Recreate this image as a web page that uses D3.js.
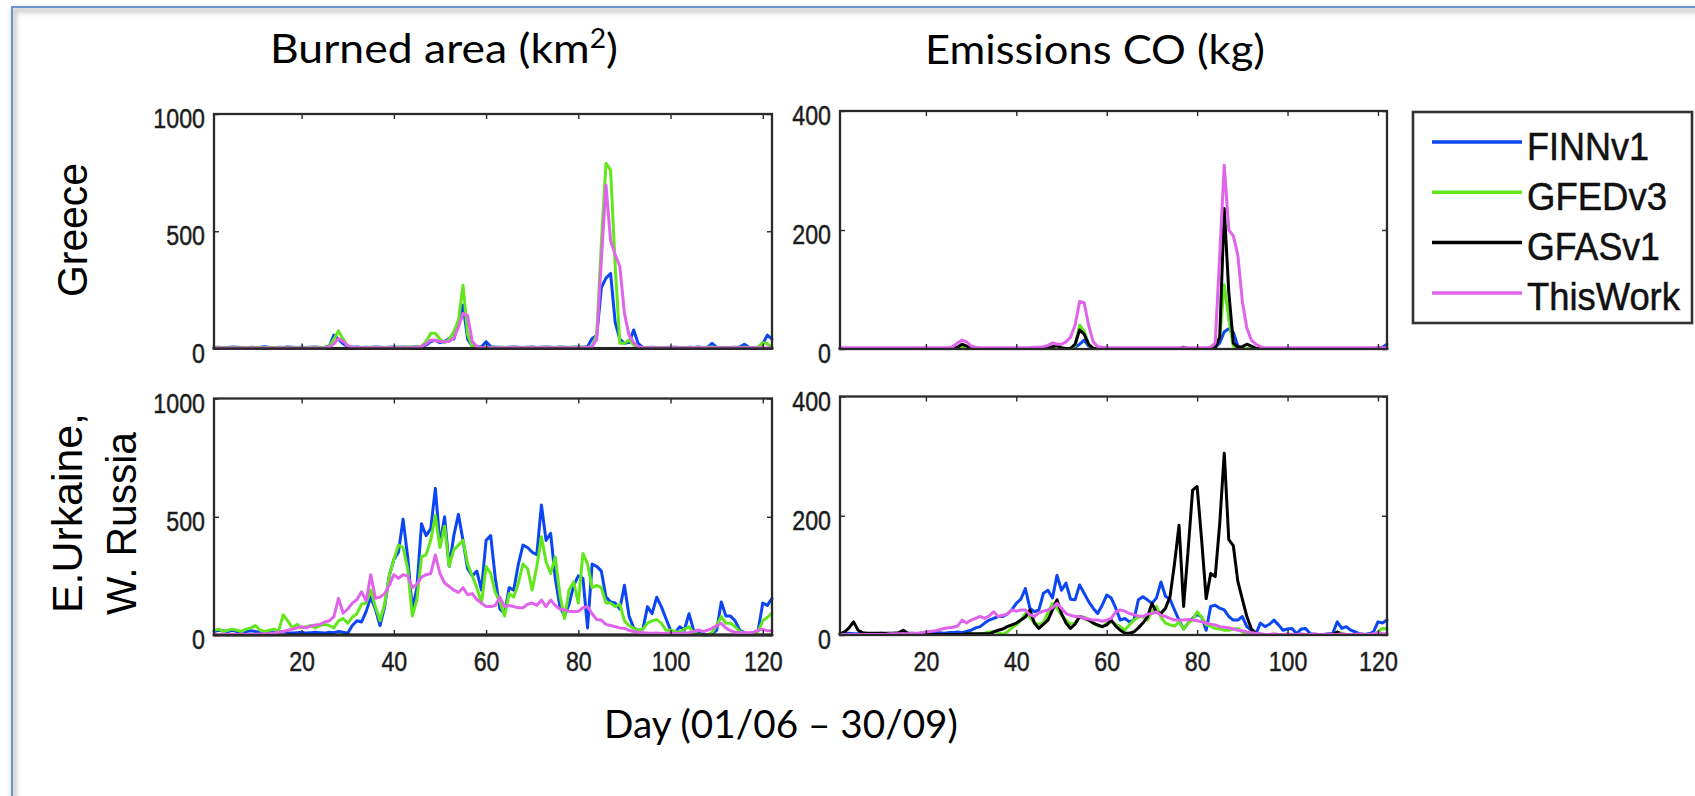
<!DOCTYPE html>
<html>
<head>
<meta charset="utf-8">
<title>Burned area and CO emissions, summer fires</title>
<script src="https://cdn.jsdelivr.net/npm/d3@7/dist/d3.min.js"></script>
<style>
  html, body { margin: 0; padding: 0; background: #ffffff; }
  svg { display: block; }
</style>
</head>
<body>
<svg id="figure" width="1695" height="796"></svg>
<script>
// ---------------- data (daily values, day 1 = 01/06 ... day 122 = 30/09) ----------------
const seriesNames = ["FINNv1", "GFEDv3", "GFASv1", "ThisWork"];
const dayTicks = [20, 40, 60, 80, 100, 120];
const areaTicks = [0, 500, 1000];
const coTicks = [0, 200, 400];
const columnTitles = ["Burned area (km", "Emissions CO (kg)"];
const rowLabels = [["Greece"], ["E.Urkaine,", "W. Russia"]];
const xAxisTitle = "Day (01/06 \u2013 30/09)";

// Greece, burned area (km2)
const greeceAreaFINN = [
  4,5,3,4,6,5,4,3,5,4,
  5,8,4,3,5,4,6,5,4,5,
  4,5,6,4,5,10,57,40,20,8,
  5,6,4,5,4,6,5,4,5,6,
  5,6,5,6,8,6,15,30,35,25,
  30,43,40,110,185,40,10,8,6,29,
  8,6,5,4,5,6,5,4,5,6,
  4,5,6,5,4,6,5,4,5,6,
  5,8,43,55,260,300,320,110,40,22,
  25,79,20,5,4,5,4,3,4,5,
  5,4,3,5,4,6,4,5,22,5,
  4,3,4,5,6,18,5,4,5,20,
  57,40];
const greeceAreaGFED = [
  3,4,3,2,4,3,3,4,3,3,
  4,3,5,3,4,3,2,3,4,3,
  3,4,3,5,4,10,40,75,40,10,
  4,3,4,3,5,4,3,4,3,4,
  5,4,6,5,8,10,30,65,65,40,
  25,40,72,120,270,60,8,4,3,5,
  4,3,5,4,3,4,3,4,5,3,
  4,3,4,3,4,5,3,4,6,4,
  3,4,10,60,450,790,761,350,22,22,
  36,15,5,4,3,4,3,4,3,4,
  4,3,4,3,4,3,4,5,6,4,
  3,4,3,4,3,5,4,3,6,25,
  20,5];
const greeceAreaGFAS = [
  0,0,0,0,0,0,0,0,0,0,
  0,0,0,0,0,0,0,0,0,0,
  0,0,0,0,0,0,0,0,0,0,
  0,0,0,0,0,0,0,0,0,0,
  0,0,0,0,0,0,0,0,0,0,
  0,0,0,0,0,0,0,0,0,0,
  0,0,0,0,0,0,0,0,0,0,
  0,0,0,0,0,0,0,0,0,0,
  0,0,0,0,0,0,0,0,0,0,
  0,0,0,0,0,0,0,0,0,0,
  0,0,0,0,0,0,0,0,0,0,
  0,0,0,0,0,0,0,0,0,0,
  0,0];
const greeceAreaThisWork = [
  2,2,2,2,2,2,2,2,2,2,
  2,2,2,2,2,2,2,2,2,2,
  2,2,2,2,2,5,20,43,30,12,
  5,3,3,3,3,3,3,3,3,3,
  3,3,3,4,5,8,20,36,34,30,
  29,30,45,90,150,140,30,8,4,4,
  3,3,3,3,3,3,3,3,3,3,
  3,3,3,3,3,3,3,3,3,3,
  3,4,8,40,380,697,460,400,350,150,
  57,25,8,4,3,3,3,3,3,3,
  3,3,3,3,3,3,3,3,3,3,
  3,3,3,3,3,3,3,3,3,3,
  3,3];

// Greece, CO emissions (kg)
const greeceCoFINN = [
  1,1,1,1,1,1,1,1,1,1,
  1,1,1,1,1,1,1,1,1,1,
  1,1,1,1,1,1,2,3,2,1,
  1,1,1,1,1,1,1,1,1,1,
  1,1,1,1,1,1,1,2,2,1,
  1,1,3,8,15,5,1,1,1,1,
  1,1,1,1,1,1,1,1,1,1,
  1,1,1,1,1,1,1,1,1,1,
  1,1,1,2,10,29,34,28,5,1,
  1,1,1,1,1,1,1,1,1,1,
  1,1,1,1,1,1,1,1,1,1,
  1,1,1,1,1,1,1,1,1,2,
  3,8];
const greeceCoGFED = [
  1,1,1,1,1,1,1,1,1,1,
  1,1,1,1,1,1,1,1,1,1,
  1,1,1,1,1,1,2,4,2,1,
  1,1,1,1,1,1,1,1,1,1,
  1,1,1,1,1,1,1,2,3,1,
  1,1,5,40,30,8,1,1,1,1,
  1,1,1,1,1,1,1,1,1,1,
  1,1,1,1,1,1,1,1,1,1,
  1,1,1,2,20,108,50,5,1,1,
  1,1,1,1,1,1,1,1,1,1,
  1,1,1,1,1,1,1,1,1,1,
  1,1,1,1,1,1,1,1,1,1,
  1,1];
const greeceCoGFAS = [
  1,1,1,1,1,1,1,1,1,1,
  1,1,1,1,1,1,1,1,1,1,
  1,1,1,1,1,1,3,8,5,1,
  1,1,1,1,1,1,1,1,1,1,
  1,1,1,1,1,1,2,4,6,2,
  1,1,8,32,25,8,1,1,1,1,
  1,1,1,1,1,1,1,1,1,1,
  1,1,1,1,1,1,3,1,1,1,
  1,1,1,2,20,236,96,10,3,4,
  8,5,1,1,1,1,1,1,1,1,
  1,1,1,1,1,1,1,1,1,1,
  1,1,1,1,1,1,1,1,1,1,
  1,1];
const greeceCoThisWork = [
  2,2,2,2,2,2,2,2,2,2,
  2,2,2,2,2,2,2,2,2,2,
  2,2,2,2,2,4,10,15,12,5,
  3,2,2,2,2,2,2,2,2,2,
  2,2,2,3,3,4,6,10,8,8,
  12,20,40,80,78,40,12,4,3,2,
  2,2,2,2,2,2,2,2,2,2,
  2,2,2,2,2,2,2,2,2,2,
  2,2,3,10,158,309,200,190,158,80,
  35,15,8,4,2,2,2,2,2,2,
  2,2,2,2,2,2,2,2,2,2,
  2,2,2,2,2,2,2,2,2,2,
  2,2];

// E. Ukraine / W. Russia, burned area (km2)
const ukrAreaFINN = [
  15,20,18,15,20,15,12,15,18,15,
  10,12,15,12,10,15,10,8,10,12,
  8,10,12,10,8,12,10,15,12,8,
  40,60,55,100,160,110,40,120,250,320,
  350,490,330,110,200,470,420,450,620,380,
  500,290,420,510,400,280,250,270,190,400,
  420,240,110,90,200,190,300,380,370,350,
  340,550,400,430,240,120,80,130,210,250,
  240,30,300,290,270,160,140,135,110,210,
  80,30,20,25,120,90,160,120,70,20,
  10,35,20,90,20,8,5,0,5,20,
  140,80,80,60,20,10,5,3,20,135,
  125,155];
const ukrAreaGFED = [
  20,25,15,20,25,20,15,25,30,40,
  20,15,20,25,15,85,60,30,45,30,
  35,40,30,40,45,40,30,60,70,50,
  75,90,130,135,190,120,60,130,250,320,
  380,370,280,80,150,330,340,400,505,370,
  460,290,360,380,400,300,250,200,135,290,
  260,180,140,80,175,160,220,300,280,190,
  290,415,310,260,330,170,70,190,225,135,
  345,300,200,210,200,135,135,120,130,60,
  40,28,20,25,50,60,65,50,20,20,
  15,12,25,35,10,3,0,0,10,40,
  78,50,50,35,15,5,2,5,15,60,
  75,92];
const ukrAreaGFAS = [
  0,0,0,0,0,0,0,0,0,0,
  0,0,0,0,0,0,0,0,0,0,
  0,0,0,0,0,0,0,0,0,0,
  0,0,0,0,0,0,0,0,0,0,
  0,0,0,0,0,0,0,0,0,0,
  0,0,0,0,0,0,0,0,0,0,
  0,0,0,0,0,0,0,0,0,0,
  0,0,0,0,0,0,0,0,0,0,
  0,0,0,0,0,0,0,0,0,0,
  0,0,0,0,0,0,0,0,0,0,
  0,0,0,0,0,0,0,0,0,0,
  0,0,0,0,0,0,0,0,0,0,
  0,0];
const ukrAreaThisWork = [
  2,2,3,2,3,2,3,2,2,3,
  4,5,6,8,12,15,20,25,30,35,
  30,38,42,45,55,60,78,155,92,110,
  135,150,183,145,255,155,160,175,210,255,
  240,255,250,200,215,245,255,260,338,260,
  220,205,190,180,200,170,175,150,135,120,
  120,125,160,120,125,120,115,115,130,135,
  125,148,120,148,125,110,106,100,98,100,
  115,120,90,65,63,45,40,35,30,28,
  20,15,12,10,8,7,8,6,7,8,
  6,7,8,10,15,21,15,20,28,40,
  49,30,18,12,10,10,10,12,20,24,
  18,18];

// E. Ukraine / W. Russia, CO emissions (kg)
const ukrCoFINN = [
  2,2,3,2,2,3,2,2,2,3,
  2,2,3,2,2,3,3,2,3,2,
  3,3,4,3,4,4,5,4,6,8,
  12,14,20,25,28,31,31,35,42,53,
  60,78,45,39,42,70,75,62,100,75,
  87,60,59,84,70,56,45,36,50,67,
  62,45,25,28,22,25,59,64,59,53,
  62,89,65,60,42,25,10,20,28,35,
  30,8,48,50,45,42,31,25,25,31,
  14,8,2,20,14,18,25,17,8,10,
  11,2,10,11,2,1,1,1,2,3,
  22,11,14,8,5,2,1,2,5,22,
  20,25];
const ukrCoGFED = [
  1,1,1,1,1,1,1,1,1,1,
  1,1,1,1,1,1,1,1,1,1,
  1,1,1,1,1,1,1,1,1,2,
  1,2,3,5,6,4,1,5,12,17,
  25,36,30,20,18,20,38,53,45,33,
  25,18,20,31,30,25,20,15,14,20,
  22,18,14,8,17,25,30,31,25,39,
  48,30,20,17,15,22,10,20,25,39,
  30,17,15,11,10,8,8,10,11,5,
  3,1,1,1,1,1,1,1,1,1,
  1,1,1,1,1,1,1,1,1,1,
  5,3,1,1,1,1,1,1,1,5,
  11,10];
const ukrCoGFAS = [
  2,5,12,22,8,4,3,3,3,3,
  3,3,3,4,8,3,1,1,1,1,
  1,1,1,1,1,1,1,1,2,2,
  2,2,2,2,5,8,10,14,17,20,
  25,30,42,20,11,18,25,42,59,36,
  20,11,18,31,28,25,20,17,14,17,
  25,15,8,3,3,5,12,20,30,53,
  38,36,45,64,120,184,48,142,243,249,
  159,61,103,98,187,305,160,150,90,60,
  31,10,3,1,1,1,1,1,1,1,
  1,1,1,1,1,1,1,1,1,1,
  5,1,1,1,1,1,1,1,1,1,
  1,1];
const ukrCoThisWork = [
  1,1,1,1,1,1,1,1,1,1,
  1,2,2,2,2,2,3,3,4,5,
  6,7,9,11,12,13,15,25,20,25,
  28,31,28,32,39,31,33,35,42,40,
  42,42,34,31,37,40,42,46,53,45,
  36,33,31,31,28,27,25,25,23,25,
  28,39,42,40,36,34,32,31,35,36,
  39,33,31,28,25,25,25,26,25,24,
  22,20,18,17,14,13,12,10,8,7,
  5,4,3,2,1,1,2,1,1,2,
  1,1,2,1,1,2,1,1,2,1,
  1,2,1,1,1,2,1,1,2,4,
  2,2];

// ---------------- styling / layout ----------------
const seriesColors = ["#0b46f5", "#62e61c", "#000000", "#e063ec"];
const frameColor = "#2a2a2a";
const axisFont = "'Liberation Sans', Arial, Helvetica, sans-serif";
const textFont = "Lato, 'Open Sans', sans-serif";

const panels = [
  { values: [greeceAreaFINN, greeceAreaGFED, greeceAreaGFAS, greeceAreaThisWork],
    yMax: 1000, yTicks: areaTicks, box: { left: 214, right: 772, top: 114, bottom: 348.5 }, xLabels: false },
  { values: [greeceCoFINN, greeceCoGFED, greeceCoGFAS, greeceCoThisWork],
    yMax: 400, yTicks: coTicks, box: { left: 840, right: 1387, top: 111, bottom: 349 }, xLabels: false },
  { values: [ukrAreaFINN, ukrAreaGFED, ukrAreaGFAS, ukrAreaThisWork],
    yMax: 1000, yTicks: areaTicks, box: { left: 214, right: 772, top: 398.5, bottom: 635 }, xLabels: true },
  { values: [ukrCoFINN, ukrCoGFED, ukrCoGFAS, ukrCoThisWork],
    yMax: 400, yTicks: coTicks, box: { left: 840, right: 1387, top: 396.5, bottom: 635 }, xLabels: true }
];

const svg = d3.select("#figure");
const defs = svg.append("defs");

// slide frame with a soft shadow
const blur = defs.append("filter").attr("id", "soft").attr("x", "-10%").attr("y", "-10%")
  .attr("width", "120%").attr("height", "120%");
blur.append("feGaussianBlur").attr("stdDeviation", 2.5);

svg.append("path")
  .attr("d", "M 14 800 V 10 H 1700")
  .attr("fill", "none").attr("stroke", "#c8c8c8").attr("stroke-width", 5)
  .attr("filter", "url(#soft)");
svg.append("path")
  .attr("d", "M 12 800 V 7 H 1700")
  .attr("fill", "none").attr("stroke", "#6e93c8").attr("stroke-width", 2);

// squeeze a text element horizontally (along its own baseline) to a target length
function fitLength(textSel, target) {
  const w = textSel.node().getComputedTextLength();
  return w > 0 ? target / w : 1;
}

// ---------------- panels ----------------
panels.forEach(p => {
  const b = p.box;
  const x = d3.scaleLinear().domain([1, 122]).range([b.left, b.right]);
  const y = d3.scaleLinear().domain([0, p.yMax]).range([b.bottom, b.top]);
  const g = svg.append("g");

  const line = d3.line()
    .x((v, i) => x(i + 1))
    .y(v => y(v));

  p.values.forEach((vals, k) => {
    g.append("path")
      .attr("d", line(vals))
      .attr("fill", "none")
      .attr("stroke", seriesColors[k])
      .attr("stroke-width", 3)
      .attr("stroke-linejoin", "round")
      .attr("stroke-linecap", "round");
  });

  // axes: ticks point inward on all four sides
  const axisBottom = d3.axisBottom(x).tickValues(dayTicks).tickSize(-5).tickPadding(17)
    .tickFormat(p.xLabels ? d3.format("d") : () => "");
  const axisTop = d3.axisTop(x).tickValues(dayTicks).tickSize(-5).tickFormat(() => "");
  const axisLeft = d3.axisLeft(y).tickValues(p.yTicks).tickSize(-5).tickPadding(9)
    .tickFormat(d3.format("d"));
  const axisRight = d3.axisRight(y).tickValues(p.yTicks).tickSize(-5).tickFormat(() => "");

  const gB = g.append("g").attr("transform", `translate(0,${b.bottom})`).call(axisBottom);
  const gT = g.append("g").attr("transform", `translate(0,${b.top})`).call(axisTop);
  const gL = g.append("g").attr("transform", `translate(${b.left},0)`).call(axisLeft);
  const gR = g.append("g").attr("transform", `translate(${b.right},0)`).call(axisRight);

  [gB, gT, gL, gR].forEach(ax => {
    ax.select(".domain").remove();
    ax.selectAll(".tick line").attr("stroke", frameColor).attr("stroke-width", 1.4);
    ax.attr("font-family", axisFont).attr("font-size", 27);
    ax.selectAll(".tick text")
      .attr("fill", "#1c1c1c")
      .attr("stroke", "#1c1c1c").attr("stroke-width", 0.45);
  });

  const squeeze = 0.86;
  gB.selectAll(".tick text").attr("transform", `scale(${squeeze},1)`);
  gL.selectAll(".tick text")
    .attr("x", -9 / squeeze)
    .attr("dy", "0.5em")
    .attr("transform", `scale(${squeeze},1)`);

  g.append("rect")
    .attr("x", b.left).attr("y", b.top)
    .attr("width", b.right - b.left).attr("height", b.bottom - b.top)
    .attr("fill", "none").attr("stroke", frameColor).attr("stroke-width", 2.3);
});

// ---------------- legend ----------------
const legend = svg.append("g");
legend.append("rect")
  .attr("x", 1413).attr("y", 112).attr("width", 279).attr("height", 211)
  .attr("fill", "#ffffff").attr("stroke", "#333333").attr("stroke-width", 2.6);
const legendWidths = [122, 140, 133, 153];
seriesNames.forEach((name, k) => {
  const ly = 142 + k * 50.3;
  legend.append("line")
    .attr("x1", 1432).attr("x2", 1522).attr("y1", ly).attr("y2", ly)
    .attr("stroke", seriesColors[k]).attr("stroke-width", 3.5);
  const t = legend.append("text")
    .attr("font-family", axisFont).attr("font-size", 38).attr("fill", "#111")
    .attr("stroke", "#111").attr("stroke-width", 0.5)
    .text(name);
  const k2 = fitLength(t, legendWidths[k]);
  t.attr("transform", `translate(1527,${ly + 17.5}) scale(${k2},1)`);
});

// ---------------- titles and labels ----------------
const title1 = svg.append("text").attr("font-family", textFont).attr("font-size", 41).attr("fill", "#000");
title1.append("tspan").text(columnTitles[0]);
title1.append("tspan").attr("font-size", 26).attr("dy", -15).text("2");
title1.append("tspan").attr("dy", 15).text(")");
title1.attr("transform", `translate(270,63) scale(${fitLength(title1, 348)},1)`);

const title2 = svg.append("text").attr("font-family", textFont).attr("font-size", 41).attr("fill", "#000")
  .text(columnTitles[1]);
title2.attr("transform", `translate(925,64) scale(${fitLength(title2, 340)},1)`);

const xTitle = svg.append("text").attr("font-family", textFont).attr("font-size", 38).attr("fill", "#000")
  .text(xAxisTitle);
xTitle.attr("transform", `translate(604,738) scale(${fitLength(xTitle, 354)},1)`);

// row labels, rotated to read bottom-to-top
const rowSpecs = [
  { text: rowLabels[0][0], x: 87, y: 297, len: 134 },
  { text: rowLabels[1][0], x: 82, y: 613, len: 200 },
  { text: rowLabels[1][1], x: 136, y: 615, len: 183 }
];
rowSpecs.forEach(r => {
  const t = svg.append("text").attr("font-family", axisFont).attr("font-size", 42).attr("fill", "#000")
    .text(r.text);
  t.attr("transform", `translate(${r.x},${r.y}) rotate(-90) scale(${fitLength(t, r.len)},1)`);
});
</script>
</body>
</html>
